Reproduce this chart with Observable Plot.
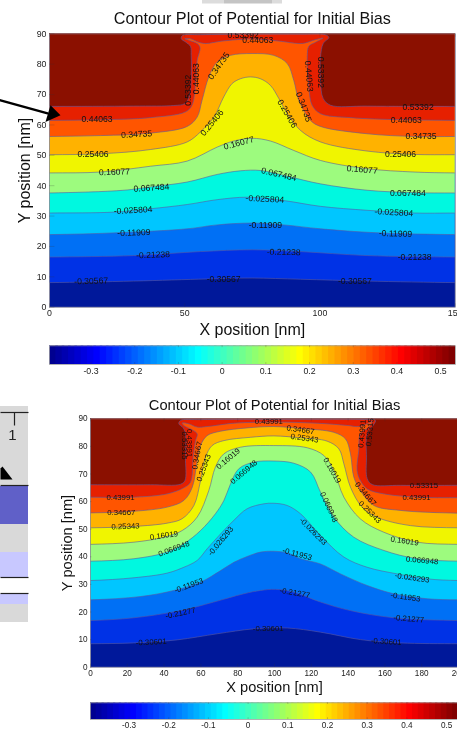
<!DOCTYPE html>
<html>
<head>
<meta charset="utf-8">
<script src="https://cdn.jsdelivr.net/npm/d3@7"></script>
<script src="https://cdn.jsdelivr.net/npm/@observablehq/plot@0.6"></script>
<style>
html,body{margin:0;padding:0;background:#fff;}
#page{position:relative;width:457px;height:730px;overflow:hidden;}
#page svg{position:absolute;left:0;background:transparent;overflow:hidden;filter:blur(0.45px);max-width:none;}
</style>
</head>
<body>
<div id="page"></div>
<script>
// ---- shared text
const chartTitle = "Contour Plot of Potential for Initial Bias";
const xTitle = "X position [nm]";
const yTitle = "Y position [nm]";

// ---- band colours, low to high
const bandColors = ["#00189a","#0032e6","#0070f5","#00c6ff","#00f8e0","#9dfb7e","#f0f500","#ffb200","#ff5500","#e62000","#8b1000"];

// ---- jet colour bar
const jet64 = ["#000090","#0000a0","#0000b0","#0000c0","#0000d0","#0000e0","#0000f0","#0000ff",
"#0010ff","#0020ff","#0030ff","#0040ff","#0050ff","#0060ff","#0070ff","#0080ff","#008fff","#009fff","#00afff","#00bfff","#00cfff","#00dfff","#00efff","#00ffff",
"#10ffef","#20ffdf","#30ffcf","#40ffbf","#50ffaf","#60ff9f","#70ff8f","#80ff80","#8fff70","#9fff60","#afff50","#bfff40","#cfff30","#dfff20","#efff10","#ffff00",
"#ffef00","#ffdf00","#ffcf00","#ffbf00","#ffaf00","#ff9f00","#ff8f00","#ff8000","#ff7000","#ff6000","#ff5000","#ff4000","#ff3000","#ff2000","#ff1000","#ff0000",
"#ef0000","#df0000","#cf0000","#bf0000","#af0000","#9f0000","#8f0000","#800000"];
const barTicks = [-0.3,-0.2,-0.1,0,0.1,0.2,0.3,0.4,0.5];

// ---- upper chart contours [x nm, y nm]
const topN306 = [[0,8.1],[31.2,8.6],[58.3,9.3],[74.9,9.6],[92.8,9.2],[117.4,8.6],[150,8.1]];
const topN212 = [[0,16.5],[31.2,17],[55.8,18.3],[74.9,18.9],[92.8,18.3],[117.4,17],[150,16.5]];
const topN119 = [[0,23.9],[25,24.5],[50.9,25.8],[62,27.1],[74.9,27.7],[86.6,27.1],[100.2,25.8],[121.1,24.5],[150,23.9]];
const topN026 = [[0,31],[23.8,31.3],[37.3,32.4],[50.9,33.8],[62,35.4],[73.1,36.2],[86.6,35.1],[100.2,33.2],[117.4,31.9],[134.7,31],[150,31]];
const topP067 = [[0,37.6],[27.5,38.5],[37.3,39.6],[50.9,41.2],[62,43.7],[70.6,44.9],[78,45],[87.9,43.1],[100.2,40.6],[117.4,38.5],[134.7,37.7],[150,37.6]];
const topP161 = [[0,44.2],[18.9,44.5],[37.3,46.4],[50.9,48.1],[62,52.7],[68.1,54.7],[74.9,55.6],[81.7,54.7],[90.3,51.6],[100.2,48.3],[117.4,45.6],[134.7,44.5],[150,44.2]];
const topP254 = [[0,50.2],[18.9,50.5],[37.3,51.9],[50.9,54.4],[55.8,57.7],[60.8,62.6],[64.4,69.2],[67.5,73.6],[70.6,75.2],[74.3,75.8],[78,75.2],[81.7,73],[84.8,68.7],[87.9,63.7],[92.8,58.2],[100.2,54.4],[117.4,51.4],[134.7,50.3],[150,50.2]];
const topP347 = [[0,56.2],[18.9,56.5],[37.3,57.3],[50.9,59.5],[54.6,62.6],[56.4,68.1],[58.9,75.8],[62,80.7],[66.9,82.9],[74.9,83.5],[82.9,82.9],[87.9,80.2],[90.3,74.7],[92.2,68.1],[96.5,61.5],[100.2,59.5],[117.4,57.1],[134.7,56.2],[150,56.2]];
const topP441 = [[0,61.5],[18.9,61.7],[37.3,62.4],[50.3,64.3],[52.7,66.5],[54,73.6],[54.6,81.3],[55.6,84.6],[55.6,85.7],[54.6,86.8],[51.5,87.9],[50,88.4],[52.1,88.4],[55.2,87.2],[57.7,86.8],[63.8,87.6],[74.9,88.3],[84.8,87.6],[92.2,86.8],[94.6,87],[97.7,87.9],[101.2,88.6],[98.3,87.2],[95.9,85.9],[95.3,82.4],[95.9,72.5],[97.1,66.5],[100.2,63.7],[111.3,62.4],[129.8,61.7],[150,61.5]];
const topP534 = [[0,66.1],[31.2,66.2],[46,66.4],[50,67],[51.6,69.2],[52.4,75.8],[52.4,82.9],[52.1,85.9],[50.3,87.3],[48.7,88.4],[49.2,89.5],[55.8,89.7],[74.9,89.9],[92.8,89.9],[102,89.7],[103.3,88.8],[101.2,86.8],[100.2,82.4],[100.2,74.7],[101.2,68.7],[103.9,66.5],[117.4,66.2],[150,66.1]];
const topContours = [topN306,topN212,topN119,topN026,topP067,topP161,topP254,topP347,topP441,topP534];

// ---- upper chart contour labels [text, x, y, rotation]
const topLabels = [
["0.53392",71.6,89.4,0],["0.44063",77,87.9,0],["0.53392",51.3,71.4,-90],["0.44063",54.2,75.2,-90],
["0.34735",62.6,79.4,-55],["0.44063",95.9,76,85],["0.53392",100.4,77.3,90],["0.34735",94,65.9,70],
["0.25406",87.9,63.7,60],["0.25406",60.1,60.7,-50],["0.16077",70,54,-15],["0.067484",84.8,43.7,13],
["0.44063",17.6,61.8,0],["0.34735",32.2,56.9,-3],["0.25406",16.1,50.3,0],["0.16077",24,44.5,-2],["0.067484",37.7,39.3,-4],
["0.53392",136.3,65.9,0],["0.44063",131.9,61.5,0],["0.34735",137.4,56.2,0],["0.25406",129.8,50.5,0],["0.16077",115.6,45.3,5],["0.067484",132.5,37.6,0],
["-0.025804",30.9,31.9,-3],["-0.025804",79.6,35.6,3],["-0.025804",127.3,31.2,3],
["-0.11909",31.2,24.5,-2],["-0.11909",79.8,27,0],["-0.11909",127.9,24.2,2],
["-0.21238",38.3,17.2,-2],["-0.21238",86.6,18.1,1],["-0.21238",135,16.5,0],
["-0.30567",15.4,8.6,-2],["-0.30567",64.4,9.2,0],["-0.30567",112.9,8.6,0]];

// ---- lower chart contours [x nm, y nm]
const lowN306 = [[0,8.5],[23.6,8.8],[47.1,9.9],[68.8,12.1],[88.8,13.9],[106.9,14.2],[125,12.7],[146.7,10],[168.5,8.8],[200,8.5]];
const lowN213 = [[0,16.9],[23.6,17.9],[48.9,20.5],[67,23.6],[83.3,26.6],[92.4,27.8],[100.5,28.2],[110.5,27.2],[125,23.6],[141.3,20.5],[164.9,17.9],[200,16.9]];
const lowN120 = [[0,24.4],[27.2,25.6],[45.3,27.8],[59.8,30.8],[70.7,35],[77.9,38],[85.1,40.1],[92.4,41.7],[99.6,42],[106.9,41.4],[114.1,39.3],[125,37.4],[135.9,33.8],[150.4,29.6],[164.9,26.6],[183,24.8],[200,24.4]];
const lowN026 = [[0,31.4],[23.6,32.4],[41.7,34.1],[50.7,36.2],[58,38.7],[63.4,42.9],[70.7,48.3],[77.9,53.2],[85.1,57.4],[94.2,59.2],[99.6,59.4],[106.9,58.6],[114.1,55.6],[125,47.7],[137.7,39.9],[150.4,36.2],[166.7,33.8],[183,32],[200,31.4]];
const lowP067 = [[0,38.4],[23.6,39.3],[41.7,41.7],[50.7,44.7],[59.8,49.5],[67.9,55.6],[72.5,60.4],[76.1,66.4],[80.6,71.9],[88.8,74.3],[99.6,74.7],[110.5,73.9],[119.6,70.7],[125,63.4],[132.2,54.4],[143.1,47.1],[159.4,42.3],[177.5,39.3],[200,38.4]];
const lowP160 = [[0,44.5],[23.6,45.3],[39.9,47.1],[49.8,49.5],[58,54.4],[64.3,64],[67.9,72.5],[72.5,77.3],[81.5,79.7],[99.6,80.3],[117.8,79.5],[126.8,76.7],[132.2,71.3],[137.7,61.6],[146.7,53.7],[159.4,48.9],[177.5,45.3],[200,44.5]];
const lowP253 = [[0,50.5],[23.6,51],[41.7,52.2],[49.8,53.8],[56.2,58.6],[59.8,67.6],[62.5,76.1],[66.1,80.3],[72.5,82.1],[87,83.3],[99.6,83.8],[114.1,83.1],[128.6,81.9],[135,79.1],[137.7,73.7],[141.3,65.2],[147.6,58],[155.8,54.3],[173.9,51.3],[200,50.5]];
const lowP347 = [[0,55.9],[23.6,56.5],[41.7,58],[50.7,60.4],[55.3,65.2],[58,74.9],[59.8,80.3],[63.4,83.9],[70.7,85.5],[85.1,86.7],[99.6,87.2],[114.1,86.5],[132.2,85.1],[138.6,82.7],[141.3,77.3],[143.1,68.9],[146.7,64],[154,58.6],[168.5,56.8],[200,55.8]];
const lowP440 = [[0,61.6],[23.6,61.6],[41.7,62.8],[50.7,65],[54.3,67],[55.8,76.1],[57.1,82.1],[58,84.5],[55.3,86],[50.7,87.6],[49.8,88.5],[53.4,88.2],[58,87],[63.4,87.2],[77.9,88.4],[99.6,88.8],[123.2,88.4],[139.5,87.6],[145.8,87.2],[150.4,88.2],[153.1,89.1],[151.3,87],[146.7,84.6],[145.8,78.5],[144.9,71.3],[146.7,67.6],[150.4,64.6],[159.4,62.8],[177.5,61.6],[200,61.4]];
const lowP533 = [[0,66.1],[32.6,66.1],[48.9,66.3],[51.3,67.6],[51.6,76],[51.6,84.5],[50.4,86.7],[48,88.2],[48.9,89.4],[59.8,89.7],[99.6,89.8],[150.4,89.7],[154.9,89.4],[153.6,87.6],[150.4,84.6],[150,76.1],[150.4,68.3],[153.1,66.2],[168.5,65.9],[200,65.9]];
const lowContours = [lowN306,lowN213,lowN120,lowN026,lowP067,lowP160,lowP253,lowP347,lowP440,lowP533];

// ---- lower chart contour labels [text, x, y, rotation]
const lowLabels = [
["0.53315",181.2,65.9,0],["0.43991",177.2,61.6,0],["0.43991",16.3,61.5,0],["0.34667",16.7,56.2,0],["0.25343",19,51,-2],
["0.16019",39.9,47.7,-8],["0.066948",45.3,42.9,-20],["-0.026293",70.7,45.7,-50],["-0.026293",121,49.2,45],
["0.066948",83.3,70.7,-40],["0.16019",74.8,75.5,-40],["0.16019",131.3,71.3,60],["0.066948",129.5,58,65],
["0.34667",114.1,86,8],["0.25343",116.3,83,8],["0.43991",96.9,89,0],
["0.53315",51.1,80.3,90],["0.43991",53.8,81.2,90],["0.34667",58,76.7,-80],["0.25343",61.6,72.2,-70],
["0.43991",147.6,84.6,-85],["0.53315",151.8,85.1,-85],["0.34667",149.5,62.8,50],["0.25343",151.8,56.2,45],
["0.16019",170.7,45.7,8],["0.066948",180.2,38.7,5],["-0.026293",174.8,32.4,8],
["-0.11953",53.4,29.6,-20],["-0.11953",171.2,25.4,8],["-0.11953",112.3,41,15],
["-0.21277",48.9,19.6,-12],["-0.21277",111,26.9,10],["-0.21277",173,17.5,5],
["-0.30601",33,9.1,-3],["-0.30601",96.6,14,0],["-0.30601",160.7,9.3,4]];

// ---- axis ticks
const yTicks = [0,10,20,30,40,50,60,70,80,90];
const topXTicks = [0,50,100,150];
const lowXTicks = [0,20,40,60,80,100,120,140,160,180,200];

// ---- the arrow that points at the upper chart, in its nm units
const arrowShaft = [[-18.1,68.1],[-0.7,63.8]];
const arrowHead = [[4.07,63.2],[0.37,66.5],[-1.5,61]];

// ---- neighbouring figure cropped at the page edge: [x1,x2,y1,y2,colour]
const scrapBands = [
[0,28,406,485,"#d9d9d9"],[0,28,486,524,"#6060c8"],[0,28,524,552,"#d9d9d9"],[0,28,552,577,"#c8c8ff"],
[0,28,594,604,"#c8c8ff"],[0,28,604,622,"#d9d9d9"],
[202,224,0,3.5,"#dcdcdc"],[224,272,0,3.5,"#c4c4c4"],[272,282,0,3.5,"#dcdcdc"]];
const scrapLines = [[0,28,412,412],[0,28,485,485],[0,28,577,577],[0,28,593,593],[14,14,412,425]];
const scrapTriangle = [[0,479],[12,479],[2,466],[0,468]];

const page = document.getElementById("page");
function place(svg, top){ svg.style.top = top + "px"; page.appendChild(svg); }

// background scraps, in page pixels
place(Plot.plot({
  width:457,height:730,margin:0,
  x:{domain:[0,457],range:[0,457],axis:null},
  y:{domain:[0,730],range:[0,730],axis:null},
  marks:[
    Plot.rect(scrapBands,{x1:d=>d[0],x2:d=>d[1],y1:d=>d[2],y2:d=>d[3],fill:d=>d[4]}),
    Plot.link(scrapLines,{x1:d=>d[0],x2:d=>d[1],y1:d=>d[2],y2:d=>d[3],stroke:"#222",strokeWidth:1.2}),
    Plot.line(scrapTriangle,{x:d=>d[0],y:d=>d[1],fill:"#000",stroke:"none"}),
    Plot.text(["1"],{x:[12],y:[435],text:d=>d,fontSize:15,fontFamily:"Liberation Sans",fill:"#222"})
  ]
}),0);

function contourChart(o){
  const fam = "Liberation Sans";
  const xd = o.xDomain[1];
  const rules = "#333";
  // run each contour past the frame so the smoothing stays clean at the plot's sides
  const padded = c => [[-20,c[0][1]],...c,[xd+20,c[c.length-1][1]]];
  const marks = [
    Plot.frame({fill:bandColors[0],stroke:null}),
    ...o.contours.map((c,i)=>Plot.line([...padded(c),[xd+20,120],[-20,120]],{x:d=>d[0],y:d=>d[1],curve:"catmull-rom",fill:bandColors[i+1],stroke:"none",clip:"frame"})),
    ...o.contours.map(c=>Plot.line(padded(c),{x:d=>d[0],y:d=>d[1],curve:"catmull-rom",stroke:"#5a5aa0",strokeWidth:0.7,strokeOpacity:0.85,clip:"frame"})),
    Plot.frame({stroke:"#8a8a9a",strokeWidth:0.8}),
    Plot.ruleX(o.xTicks,{x:d=>d,y1:0,y2:1.1,stroke:rules,strokeOpacity:0.35,strokeWidth:0.6}),
    Plot.ruleX(o.xTicks,{x:d=>d,y1:88.9,y2:90,stroke:rules,strokeOpacity:0.35,strokeWidth:0.6}),
    Plot.ruleY(yTicks,{y:d=>d,x1:0,x2:o.xTicks[1]*0.04,stroke:rules,strokeOpacity:0.35,strokeWidth:0.6}),
    Plot.axisX({ticks:o.xTicks,tickSize:0,tickPadding:3,label:null,fontSize:o.tickFont,fontFamily:fam,tickFormat:d=>String(d),fill:"#222"}),
    Plot.axisY({ticks:yTicks,tickSize:0,tickPadding:3,label:null,fontSize:o.tickFont,fontFamily:fam,tickFormat:d=>String(d),fill:"#222"}),
    Plot.text(o.labels,{x:d=>d[1],y:d=>d[2],text:d=>d[0],rotate:d=>d[3],fontSize:o.labelFont,fontFamily:fam,fill:"#111",clip:"frame"}),
    Plot.text([chartTitle],{text:d=>d,frameAnchor:"top",lineAnchor:"middle",textAnchor:"middle",dy:o.titleDy,fontSize:o.titleFont,fontFamily:fam,fill:"#111"}),
    Plot.text([xTitle],{text:d=>d,frameAnchor:"bottom",lineAnchor:"middle",textAnchor:"middle",dy:o.xLabelDy,fontSize:o.axisFont,fontFamily:fam,fill:"#111"}),
    Plot.text([yTitle],{text:d=>d,frameAnchor:"left",lineAnchor:"middle",textAnchor:"middle",rotate:-90,dx:o.yLabelDx,fontSize:o.axisFont,fontFamily:fam,fill:"#111"}),
    ...(o.extra||[])
  ];
  return Plot.plot({
    width:457,height:o.height,
    marginLeft:o.left,marginRight:457-o.right,marginTop:o.top,marginBottom:o.height-o.bottom,
    x:{domain:o.xDomain,range:[o.left,o.right]},
    y:{domain:[0,90],range:[o.bottom,o.top]},
    marks
  });
}

function colorBar(o){
  const w = (o.vmax-o.vmin)/jet64.length;
  return Plot.plot({
    width:457,height:o.height,
    marginLeft:o.left,marginRight:457-o.right,marginTop:o.top,marginBottom:o.height-o.bottom,
    x:{domain:[o.vmin,o.vmax],range:[o.left,o.right]},
    y:{domain:[0,1],range:[o.bottom,o.top],axis:null},
    marks:[
      // each step runs slightly under the next one, so no seams show
      Plot.rect(jet64,{x1:(d,i)=>o.vmin+i*w,x2:(d,i)=>o.vmin+Math.min(i+1.4,jet64.length)*w,y1:0,y2:1,fill:d=>d}),
      Plot.frame({stroke:"#a0a0a0",strokeWidth:0.8}),
      Plot.ruleX(barTicks,{x:d=>d,y1:0,y2:0.1,stroke:"#333",strokeOpacity:0.4,strokeWidth:0.6}),
      Plot.ruleX(barTicks,{x:d=>d,y1:0.9,y2:1,stroke:"#333",strokeOpacity:0.4,strokeWidth:0.6}),
      Plot.axisX({ticks:barTicks,tickSize:0,tickPadding:3,label:null,fontSize:o.font,fontFamily:"Liberation Sans",tickFormat:d=>String(d),fill:"#222"})
    ]
  });
}

place(contourChart({
  contours:topContours,labels:topLabels,xTicks:topXTicks,xDomain:[0,150],
  height:340,left:49,right:454.7,top:33.3,bottom:306.7,
  tickFont:8.8,labelFont:8.6,titleFont:16.2,axisFont:16,titleDy:-15,xLabelDy:22.3,yLabelDx:-25,
  extra:[
    Plot.line(arrowShaft,{x:d=>d[0],y:d=>d[1],stroke:"#000",strokeWidth:2.4}),
    Plot.line(arrowHead,{x:d=>d[0],y:d=>d[1],fill:"#000",stroke:"none"})
  ]
}),0);

place(colorBar({height:45,left:49,right:455,top:5.3,bottom:24,vmin:-0.395,vmax:0.534,font:8.8}),340);

place(contourChart({
  contours:lowContours,labels:lowLabels,xTicks:lowXTicks,xDomain:[0,200],
  height:310,left:90,right:458,top:33.3,bottom:281.7,
  tickFont:8.2,labelFont:7.8,titleFont:14.7,axisFont:14.6,titleDy:-13.3,xLabelDy:20.3,yLabelDx:-23,
}),385);

place(colorBar({height:35,left:90,right:458,top:7.3,bottom:24,vmin:-0.397,vmax:0.53,font:8.2}),695);
</script>
</body>
</html>
